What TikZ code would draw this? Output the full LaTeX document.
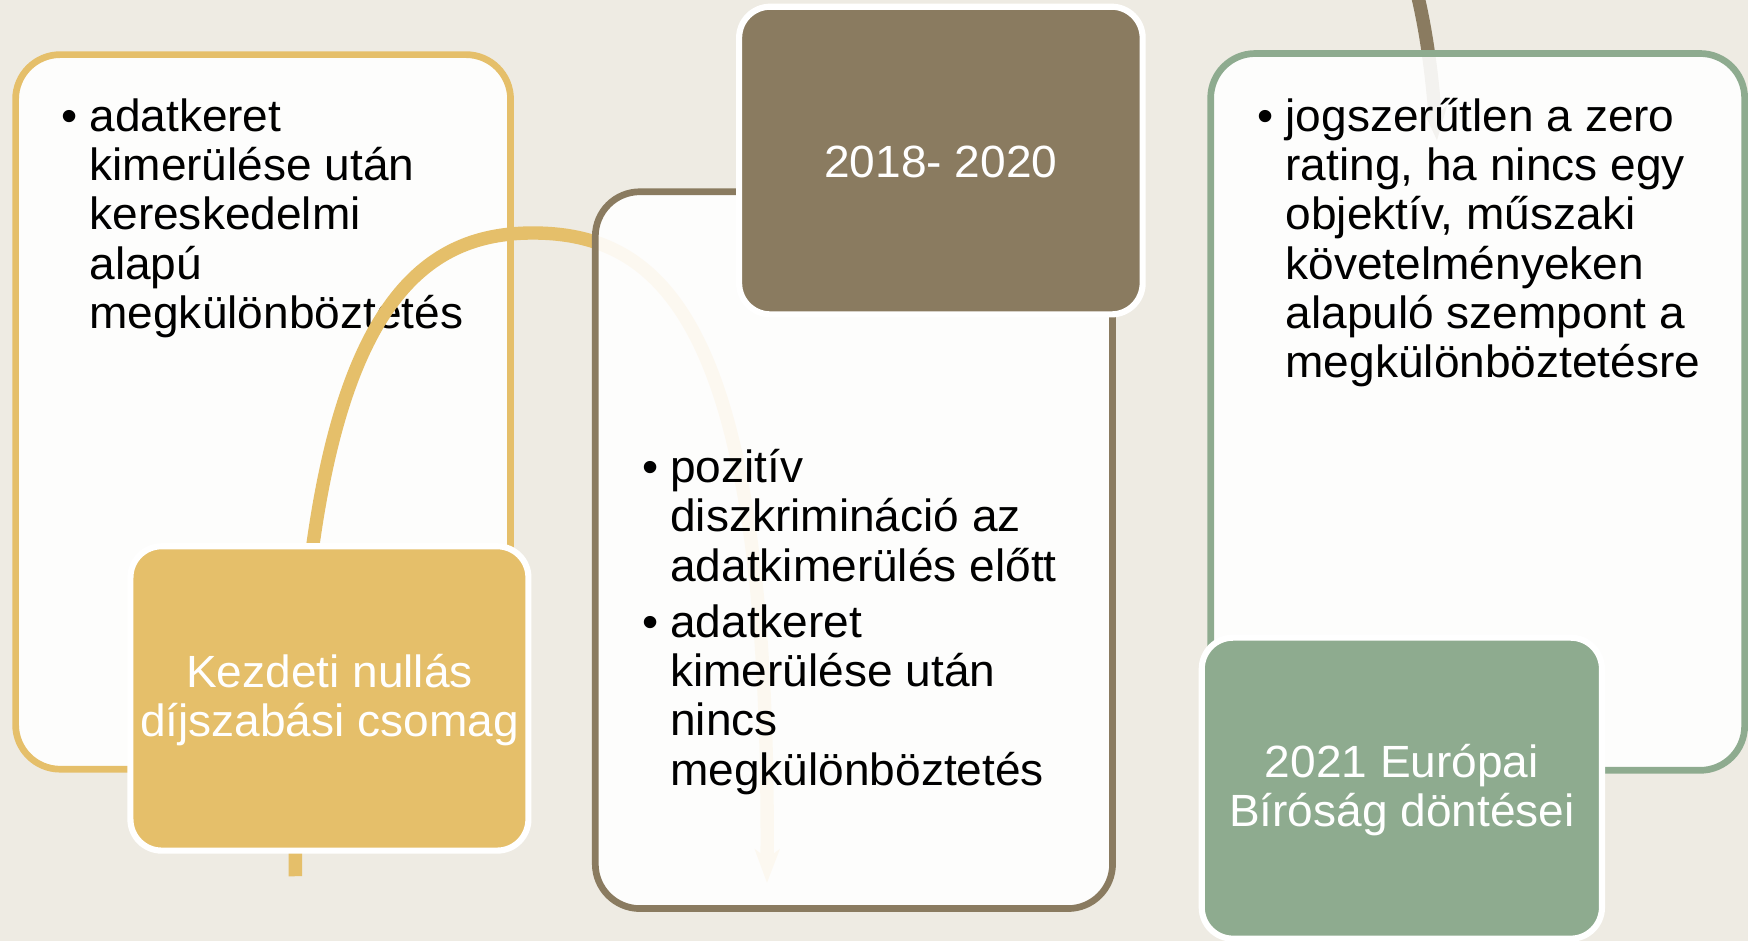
\documentclass[tikz,border=0pt]{standalone}
\usepackage{fontspec}
\setmainfont{Liberation Sans}[FakeStretch=1.02]
\usepackage{xcolor}
\usetikzlibrary{arrows.meta}

\definecolor{hatter}{HTML}{EEEBE3}
\definecolor{arany}{HTML}{E5BF6A}
\definecolor{barna}{HTML}{8A7B60}
\definecolor{zold}{HTML}{8EAB8F}

\newcommand{\felso}{\rule{0pt}{38pt}}

\tikzset{
    doboz/.style={draw=#1, line width=6pt, rounded corners=40pt, fill=white, fill opacity=0.9},
    cimke/.style={draw=white, line width=5.5pt, rounded corners=28pt, fill=#1, text=white,
        align=center, font=\fontsize{40.5}{44.25}\selectfont},
    pontok/.style={anchor=north west, inner sep=0pt, font=\fontsize{40.5}{44.25}\selectfont},
    ivnyil/.style={draw=#1, line width=12pt, -{Stealth[length=30pt,width=22pt,inset=8pt]}}
}

\begin{document}
\begin{tikzpicture}[x=1pt, y=-1pt]
    \useasboundingbox (0,0) rectangle (1568,844);
    \fill[hatter] (0,0) rectangle (1568,844);
    \clip (0,0) rectangle (1568,844);
    % first step
    \node[doboz=arany, minimum width=444pt, minimum height=641pt] (dobozA) at (236,369.5) {};
    \node[pontok] (szovegA) at (55,86.5) {\begin{tabular}{@{}p{25pt}@{}l@{}}
        \textbullet & adatkeret\\
         & kimerülése után\\
         & kereskedelmi\\
         & alapú\\
         & megkülönböztetés
    \end{tabular}};
    \coordinate (farokA) at (265,786);
    \coordinate (csucsA) at (478,209);
    \coordinate (hegyA) at (688,792);
    \draw[ivnyil=arany] (farokA) .. controls (262,300) and (360,209) .. (csucsA)
        .. controls (600,209) and (691,300) .. (hegyA);
    \node[cimke=arany, minimum width=357pt, minimum height=273pt] (cimkeA) at (295.5,626.5)
        {\felso Kezdeti nullás\\\strut díjszabási csomag};
    % second step
    \node[doboz=barna, minimum width=464pt, minimum height=643pt] (dobozB) at (766,493.5) {};
    \node[pontok] (szovegB) at (576,401.5) {\begin{tabular}{@{}p{25pt}@{}l@{}}
        \textbullet & pozitív\\
         & diszkrimináció az\\
         & adatkimerülés előtt\\[6.25pt]
        \textbullet & adatkeret\\
         & kimerülése után\\
         & nincs\\
         & megkülönböztetés
    \end{tabular}};
    \node[cimke=barna, minimum width=362pt, minimum height=276pt] (cimkeB) at (844,144)
        {\rule{0pt}{31.5pt}2018- 2020};
    % third step
    \coordinate (kezdB) at (1060,-10);
    \coordinate (hegyB) at (1289,126);
    \draw[ivnyil=barna] (kezdB) .. controls (1205,-200) and (1272,-100) .. (hegyB);
    \node[doboz=zold, minimum width=479pt, minimum height=643pt] (dobozC) at (1325.5,369.5) {};
    \node[pontok] (szovegC) at (1128,86.5) {\begin{tabular}{@{}p{25pt}@{}l@{}}
        \textbullet & jogszerűtlen a zero\\
         & rating, ha nincs egy\\
         & objektív, műszaki\\
         & követelményeken\\
         & alapuló szempont a\\
         & megkülönböztetésre
    \end{tabular}};
    \node[cimke=zold, minimum width=359pt, minimum height=270pt] (cimkeC) at (1257.5,707)
        {\felso 2021 Európai\\\strut Bíróság döntései};
\end{tikzpicture}
\end{document}
